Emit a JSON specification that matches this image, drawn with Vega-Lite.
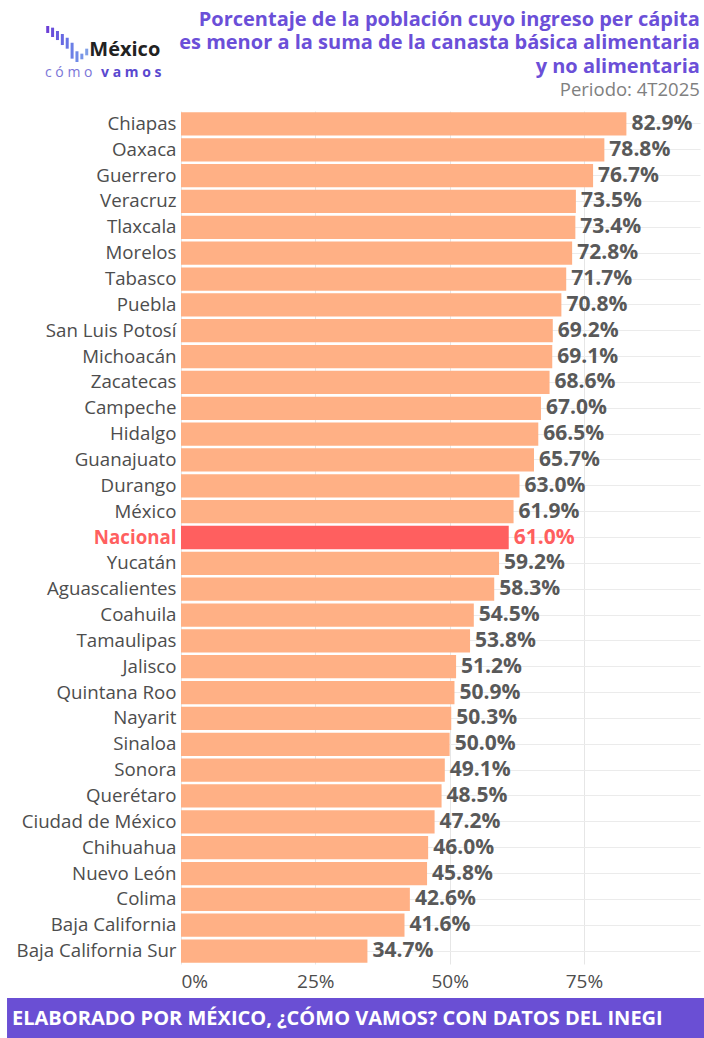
{
  "$schema": "https://vega.github.io/schema/vega-lite/v6.json",
  "padding": {"left": 7, "top": 0, "right": 0, "bottom": 0},
  "spacing": 7,
  "config": {"view": {"stroke": null}, "font": "Open Sans"},
  "datasets": {
    "logo": [
      {"n": 1, "arriba": 25.0, "abajo": 31.7},
      {"n": 2, "arriba": 26.6, "abajo": 35.6},
      {"n": 3, "arriba": 29.8, "abajo": 38.5},
      {"n": 4, "arriba": 32.7, "abajo": 43.3},
      {"n": 5, "arriba": 36.3, "abajo": 46.8},
      {"n": 6, "arriba": 41.1, "abajo": 56.4},
      {"n": 7, "arriba": 49.3, "abajo": 59.6},
      {"n": 8, "arriba": 51.6, "abajo": 57.0},
      {"n": 9, "arriba": 46.8, "abajo": 53.2}
    ],
    "estados": [
      {"estado": "Chiapas", "valor": 0.829},
      {"estado": "Oaxaca", "valor": 0.788},
      {"estado": "Guerrero", "valor": 0.767},
      {"estado": "Veracruz", "valor": 0.735},
      {"estado": "Tlaxcala", "valor": 0.734},
      {"estado": "Morelos", "valor": 0.728},
      {"estado": "Tabasco", "valor": 0.717},
      {"estado": "Puebla", "valor": 0.708},
      {"estado": "San Luis Potosí", "valor": 0.692},
      {"estado": "Michoacán", "valor": 0.691},
      {"estado": "Zacatecas", "valor": 0.686},
      {"estado": "Campeche", "valor": 0.670},
      {"estado": "Hidalgo", "valor": 0.665},
      {"estado": "Guanajuato", "valor": 0.657},
      {"estado": "Durango", "valor": 0.630},
      {"estado": "México", "valor": 0.619},
      {"estado": "Nacional", "valor": 0.610},
      {"estado": "Yucatán", "valor": 0.592},
      {"estado": "Aguascalientes", "valor": 0.583},
      {"estado": "Coahuila", "valor": 0.545},
      {"estado": "Tamaulipas", "valor": 0.538},
      {"estado": "Jalisco", "valor": 0.512},
      {"estado": "Quintana Roo", "valor": 0.509},
      {"estado": "Nayarit", "valor": 0.503},
      {"estado": "Sinaloa", "valor": 0.500},
      {"estado": "Sonora", "valor": 0.491},
      {"estado": "Querétaro", "valor": 0.485},
      {"estado": "Ciudad de México", "valor": 0.472},
      {"estado": "Chihuahua", "valor": 0.460},
      {"estado": "Nuevo León", "valor": 0.458},
      {"estado": "Colima", "valor": 0.426},
      {"estado": "Baja California", "valor": 0.416},
      {"estado": "Baja California Sur", "valor": 0.347}
    ]
  },
  "vconcat": [
    {
      "width": 519,
      "height": 104,
      "resolve": {"scale": {"x": "independent", "color": "independent"}},
      "layer": [
        {
          "data": {"name": "logo"},
          "mark": {"type": "rule", "strokeWidth": 3},
          "encoding": {
            "x": {"field": "n", "type": "quantitative", "scale": {"domain": [28.34, 134.8]}, "axis": null},
            "y": {"field": "arriba", "type": "quantitative", "scale": {"domain": [0, 100], "reverse": true}, "axis": null},
            "y2": {"field": "abajo"},
            "color": {"field": "n", "type": "quantitative", "scale": {"range": ["#6b3fd6", "#7f9ee6"]}, "legend": null}
          }
        },
        {
          "data": {"values": [{"t": "México"}]},
          "mark": {"type": "text", "align": "left", "baseline": "middle", "fontSize": 20, "fontWeight": "bold", "color": "#222222"},
          "encoding": {
            "text": {"field": "t"},
            "x": {"datum": 11.8, "type": "quantitative", "scale": {"domain": [24.96, 99.42]}, "axis": null},
            "y": {"datum": 48.5, "type": "quantitative", "scale": {"domain": [0, 100], "reverse": true}, "axis": null}
          }
        },
        {
          "data": {"values": [{"t": "c  ó  m  o"}]},
          "mark": {"type": "text", "align": "left", "baseline": "middle", "fontSize": 14, "color": "#7b76d8"},
          "encoding": {
            "text": {"field": "t"},
            "x": {"datum": 5.45, "type": "quantitative", "scale": {"domain": [24.96, 99.42]}, "axis": null},
            "y": {"datum": 69.8, "type": "quantitative", "scale": {"domain": [0, 100], "reverse": true}, "axis": null}
          }
        },
        {
          "data": {"values": [{"t": "v a m o s"}]},
          "mark": {"type": "text", "align": "left", "baseline": "middle", "fontSize": 14, "fontWeight": "bold", "color": "#5a48cf"},
          "encoding": {
            "text": {"field": "t"},
            "x": {"datum": 13.5, "type": "quantitative", "scale": {"domain": [24.96, 99.42]}, "axis": null},
            "y": {"datum": 69.8, "type": "quantitative", "scale": {"domain": [0, 100], "reverse": true}, "axis": null}
          }
        },
        {
          "data": {"values": [{"t": "Porcentaje de la población cuyo ingreso per cápita\nes menor a la suma de la canasta básica alimentaria\ny no alimentaria"}]},
          "mark": {"type": "text", "align": "right", "baseline": "top", "lineBreak": "\n", "lineHeight": 23.5, "fontSize": 20, "fontWeight": "bold", "color": "#6b4fd8"},
          "encoding": {
            "text": {"field": "t"},
            "x": {"datum": 99.4, "type": "quantitative", "scale": {"domain": [24.96, 99.42]}, "axis": null},
            "y": {"datum": 9.2, "type": "quantitative", "scale": {"domain": [0, 100], "reverse": true}, "axis": null}
          }
        },
        {
          "data": {"values": [{"t": "Periodo: 4T2025"}]},
          "mark": {"type": "text", "align": "right", "baseline": "middle", "fontSize": 18.5, "color": "#808080"},
          "encoding": {
            "text": {"field": "t"},
            "x": {"datum": 99.4, "type": "quantitative", "scale": {"domain": [24.96, 99.42]}, "axis": null},
            "y": {"datum": 86.5, "type": "quantitative", "scale": {"domain": [0, 100], "reverse": true}, "axis": null}
          }
        }
      ]
    },
    {
      "width": 519,
      "height": 853,
      "data": {"name": "estados"},
      "encoding": {
        "y": {
          "field": "estado",
          "type": "nominal",
          "sort": "-x",
          "scale": {"paddingInner": 0.1, "paddingOuter": 0.05},
          "axis": {
            "title": null,
            "ticks": false,
            "domain": false,
            "grid": true,
            "gridColor": "#ebebeb",
            "bandPosition": 0.5,
            "labelFontSize": 18.7,
            "labelPadding": 5,
            "labelColor": {"expr": "datum.value === 'Nacional' ? '#ff5f5f' : '#4d4d4d'"},
            "labelFontWeight": {"expr": "datum.value === 'Nacional' ? 'bold' : 'normal'"}
          }
        },
        "x": {
          "field": "valor",
          "type": "quantitative",
          "scale": {"domain": [0, 0.966], "nice": false},
          "axis": {
            "title": null,
            "values": [0, 0.25, 0.5, 0.75],
            "format": ".0%",
            "ticks": false,
            "domain": false,
            "grid": true,
            "gridColor": "#e6e6e6",
            "labelFontSize": 19,
            "labelColor": "#4d4d4d",
            "labelPadding": 8
          }
        }
      },
      "layer": [
        {
          "mark": {"type": "bar"},
          "encoding": {
            "color": {"condition": {"test": "datum.estado === 'Nacional'", "value": "#ff5f5f"}, "value": "#ffb085"}
          }
        },
        {
          "mark": {"type": "text", "align": "left", "baseline": "middle", "dx": 5, "fontSize": 21, "fontWeight": "bold"},
          "encoding": {
            "text": {"field": "valor", "format": ".1%"},
            "color": {"condition": {"test": "datum.estado === 'Nacional'", "value": "#ff5f5f"}, "value": "#595959"}
          }
        }
      ]
    },
    {
      "width": 519,
      "height": 41,
      "data": {"values": [{"t": "ELABORADO POR MÉXICO, ¿CÓMO VAMOS? CON DATOS DEL INEGI"}]},
      "layer": [
        {
          "mark": {"type": "rect", "color": "#6a4fd4"},
          "encoding": {
            "x": {"datum": 0, "type": "quantitative", "scale": {"domain": [24.96, 99.42]}, "axis": null},
            "x2": {"datum": 100},
            "y": {"datum": 0, "type": "quantitative", "scale": {"domain": [0, 100]}, "axis": null},
            "y2": {"datum": 100}
          }
        },
        {
          "mark": {"type": "text", "align": "left", "baseline": "middle", "fontSize": 20, "fontWeight": "bold", "color": "white"},
          "encoding": {
            "text": {"field": "t"},
            "x": {"datum": 0.72, "type": "quantitative", "scale": {"domain": [24.96, 99.42]}, "axis": null},
            "y": {"datum": 50, "type": "quantitative", "scale": {"domain": [0, 100]}, "axis": null}
          }
        }
      ]
    }
  ]
}
